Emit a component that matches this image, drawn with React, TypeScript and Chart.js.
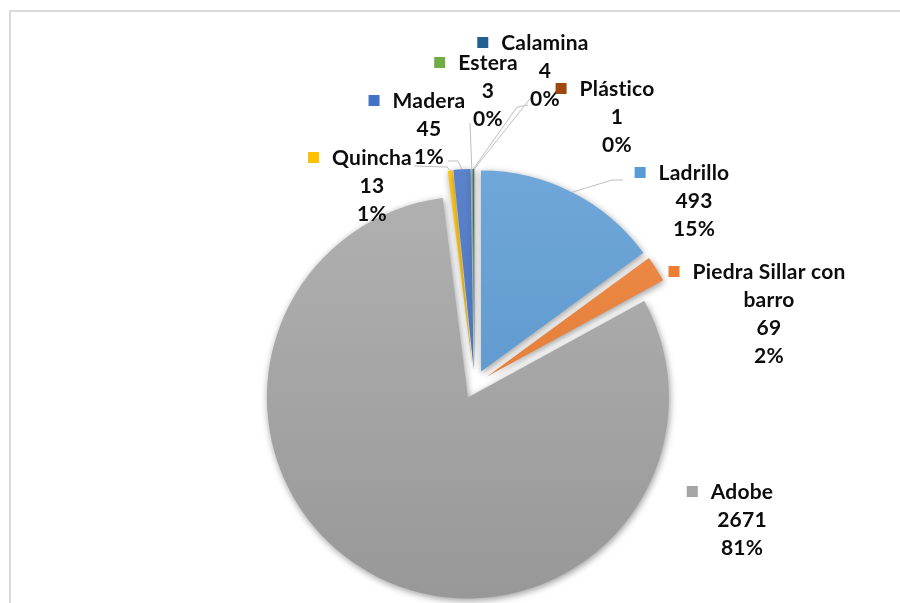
import React, { useEffect, useRef } from "react";
import { Chart, registerables } from "chart.js";

Chart.register(...registerables);

// ---------- data ----------
const CATEGORIES = [
  "Ladrillo",
  "Piedra Sillar con barro",
  "Adobe",
  "Quincha",
  "Madera",
  "Estera",
  "Calamina",
  "Plástico",
];
const VALUES = [493, 69, 2671, 13, 45, 3, 4, 1];
const PERCENT_LABELS = ["15%", "2%", "81%", "1%", "1%", "0%", "0%", "0%"];
const COLORS = [
  "#5B9BD5",
  "#ED7D31",
  "#A5A5A5",
  "#FFC000",
  "#4472C4",
  "#70AD47",
  "#255E91",
  "#9E480E",
];

// ---------- layout ----------
const W = 900;
const H = 603;
const EXPLODE = 14.5;
const RADIUS = 201;
const FONT = "bold 21px Lato";
const LINE_H = 28;
const LABEL_MAX_W = 160;
// label centre x, first line centre y, leader polyline (from slice outward)
const LABEL_LAYOUT: { x: number; y: number; leader: number[][] | null }[] = [
  { x: 694, y: 173, leader: [[612, 180], [623, 180]] },
  { x: 769, y: 272, leader: null },
  { x: 742, y: 492, leader: null },
  { x: 372, y: 158, leader: [[447, 167], [414, 166]] },
  { x: 429, y: 101, leader: [[458, 161], [448, 161]] },
  { x: 488, y: 63, leader: [[470, 123]] },
  { x: 545, y: 43, leader: [[517, 107], [528, 105]] },
  { x: 617, y: 89, leader: [[533, 95]] },
];

function mix(hex: string, target: number, amt: number) {
  const n = parseInt(hex.slice(1), 16);
  const r = (n >> 16) & 255,
    g = (n >> 8) & 255,
    b = n & 255;
  const f = (c: number) => Math.round(c + (target - c) * amt);
  return `rgb(${f(r)},${f(g)},${f(b)})`;
}

function wrap(ctx: CanvasRenderingContext2D, text: string, maxW: number) {
  const words = text.split(" ");
  const lines: string[] = [];
  let cur = "";
  for (const w of words) {
    const t = cur ? cur + " " + w : w;
    if (ctx.measureText(t).width > maxW && cur) {
      lines.push(cur);
      cur = w;
    } else cur = t;
  }
  if (cur) lines.push(cur);
  return lines;
}

const explodePlugin = {
  id: "explodeArcs",
  afterDatasetUpdate(chart: any, args: any) {
    const meta = chart.getDatasetMeta(args.index);
    meta.data.forEach((el: any) => {
      if (el.__exploded) return;
      const orig = el.draw;
      el.draw = function (ctx: CanvasRenderingContext2D) {
        const mid = (this.startAngle + this.endAngle) / 2;
        ctx.save();
        ctx.translate(Math.cos(mid) * EXPLODE, Math.sin(mid) * EXPLODE);
        orig.call(this, ctx);
        ctx.restore();
      };
      el.__exploded = true;
    });
  },
};

const framePlugin = {
  id: "frame",
  beforeDraw(chart: any) {
    const ctx = chart.ctx;
    ctx.save();
    ctx.fillStyle = "#ffffff";
    ctx.fillRect(0, 0, W, H);
    ctx.fillStyle = "#d9d9d9";
    ctx.fillRect(9, 10, 2, H);
    ctx.fillRect(9, 10, W, 2);
    ctx.restore();
  },
};

const shadowPlugin = {
  id: "shadow",
  beforeDatasetsDraw(chart: any) {
    const ctx = chart.ctx;
    ctx.save();
    ctx.shadowColor = "rgba(0,0,0,0.4)";
    ctx.shadowBlur = 7;
    ctx.shadowOffsetX = 1;
    ctx.shadowOffsetY = 2;
  },
  afterDatasetsDraw(chart: any) {
    chart.ctx.restore();
  },
};

const labelPlugin = {
  id: "pieLabels",
  afterDatasetsDraw(chart: any) {
    const ctx: CanvasRenderingContext2D = chart.ctx;
    const meta = chart.getDatasetMeta(0);
    ctx.save();
    // leader lines
    ctx.strokeStyle = "#bfbfbf";
    ctx.lineWidth = 1;
    meta.data.forEach((el: any, i: number) => {
      const lay = LABEL_LAYOUT[i];
      if (!lay.leader) return;
      const mid = (el.startAngle + el.endAngle) / 2;
      const cx = el.x + Math.cos(mid) * EXPLODE;
      const cy = el.y + Math.sin(mid) * EXPLODE;
      const sx = cx + Math.cos(mid) * el.outerRadius;
      const sy = cy + Math.sin(mid) * el.outerRadius;
      ctx.beginPath();
      ctx.moveTo(sx, sy);
      lay.leader.forEach((p) => ctx.lineTo(p[0], p[1]));
      ctx.stroke();
    });
    // text
    ctx.font = FONT;
    (ctx as any).letterSpacing = "0.2px";
    ctx.textAlign = "center";
    ctx.textBaseline = "middle";
    CATEGORIES.forEach((name, i) => {
      const lay = LABEL_LAYOUT[i];
      const lines = [
        ...wrap(ctx, name, LABEL_MAX_W),
        String(VALUES[i]),
        PERCENT_LABELS[i],
      ];
      lines.forEach((t, k) => {
        const y = lay.y + k * LINE_H;
        ctx.fillStyle = "#0d0d0d";
        ctx.fillText(t, lay.x, y);
        if (k === 0) {
          const w = ctx.measureText(t).width;
          ctx.fillStyle = COLORS[i];
          ctx.fillRect(lay.x - w / 2 - 13 - 11, y - 6, 11, 11);
        }
      });
    });
    ctx.restore();
  },
};

export default function App() {
  const ref = useRef<HTMLCanvasElement | null>(null);
  useEffect(() => {
    if (!ref.current) return;
    const chart = new Chart(ref.current, {
      type: "pie",
      data: {
        labels: CATEGORIES,
        datasets: [
          {
            data: VALUES,
            borderWidth: 0,
            backgroundColor: (c: any) => {
              const base = COLORS[c.dataIndex] || "#999";
              const area = c.chart.chartArea;
              if (!area) return base;
              const cy = (area.top + area.bottom) / 2;
              const g = c.chart.ctx.createLinearGradient(0, cy - RADIUS, 0, cy + RADIUS);
              g.addColorStop(0, mix(base, 255, 0.12));
              g.addColorStop(1, mix(base, 0, 0.08));
              return g;
            },
            radius: RADIUS,
          } as any,
        ],
      },
      options: {
        responsive: false,
        animation: false,
        layout: { padding: { left: 49, right: 0, top: 166, bottom: 0 } },
        plugins: {
          legend: { display: false },
          tooltip: { enabled: false },
        },
        events: [],
      } as any,
      plugins: [framePlugin, explodePlugin, shadowPlugin, labelPlugin],
    });
    return () => chart.destroy();
  }, []);
  return (
    <div style={{ position: "fixed", left: 0, top: 0, width: W, height: H, background: "#fff" }}>
      <canvas ref={ref} width={W} height={H} style={{ display: "block" }} />
    </div>
  );
}
